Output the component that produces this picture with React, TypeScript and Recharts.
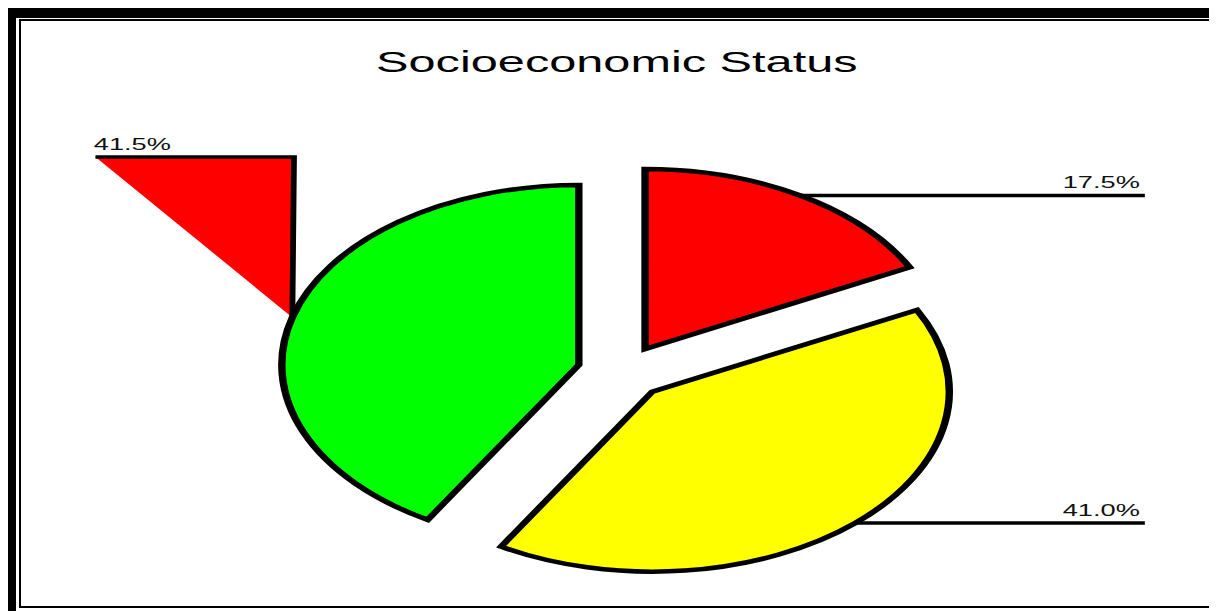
import { Customized, Pie, PieChart, Sector } from "recharts";

const CATEGORIES = ["Low", "Middle", "High"];
const SHARES = [17.5, 41.0, 41.5];
const SLICE_COLORS = ["#ff0000", "#ffff00", "#00ff00"];

const TITLE = "Socioeconomic Status";

// the original picture is stretched sideways, so the chart is drawn narrow and scaled
const STRETCH = 1.65;
const CHART_W = 740;
const CHART_H = 603;
const EXPLODE = 27;
const RADIUS = 180;
const LEFT_END = 53;
const RIGHT_END = 689;
const LEFT_TOP = 149;
const FONT = '"Liberation Sans", Arial, sans-serif';

const data = CATEGORIES.map((name, i) => ({
  name,
  value: SHARES[i],
  fill: SLICE_COLORS[i],
}));

const RAD = Math.PI / 180;

function shift(midAngle: number) {
  return {
    dx: EXPLODE * Math.cos(-midAngle * RAD),
    dy: EXPLODE * Math.sin(-midAngle * RAD),
  };
}

function ExplodedSector(props: any) {
  const { dx, dy } = shift(props.midAngle);
  return (
    <Sector
      {...props}
      cx={props.cx + dx}
      cy={props.cy + dy}
      stroke="#000"
      strokeWidth={4.5}
    />
  );
}

function renderLabel(props: any) {
  const { cx, cy, midAngle, outerRadius, value } = props;
  const { dx, dy } = shift(midAngle);
  const cos = Math.cos(-midAngle * RAD);
  const sin = Math.sin(-midAngle * RAD);
  const px = cx + dx + outerRadius * cos;
  const py = cy + dy + outerRadius * sin;
  const text = `${Number(value).toFixed(1)}%`;

  if (cos >= 0) {
    return (
      <g>
        <polyline
          points={`${px},${py} ${RIGHT_END},${py}`}
          fill="none"
          stroke="#000"
          strokeWidth={3.5}
        />
        <text
          x={RIGHT_END - 3}
          y={py - 7}
          textAnchor="end"
          fill="#111"
          fontSize={16.5}
          fontFamily={FONT}
        >
          {text}
        </text>
      </g>
    );
  }

  return (
    <g>
      <polyline
        points={`${px},${py} ${px + 1},${LEFT_TOP} ${LEFT_END},${LEFT_TOP}`}
        fill="#ff0000"
        stroke="#000"
        strokeWidth={3.5}
      />
      <text
        x={LEFT_END - 1}
        y={LEFT_TOP - 7}
        textAnchor="start"
        fill="#111"
        fontSize={16.5}
        fontFamily={FONT}
      >
        {text}
      </text>
    </g>
  );
}

export default function App() {
  return (
    <div
      style={{
        position: "relative",
        width: 1209,
        height: 603,
        overflow: "hidden",
        background: "#fff",
      }}
    >
      <div
        style={{
          position: "absolute",
          left: 0,
          top: 0,
          width: 8,
          height: 700,
          background: "#000",
        }}
      />
      <div
        style={{
          position: "absolute",
          left: 0,
          top: 0,
          width: 1400,
          height: 10,
          background: "#000",
        }}
      />
      <div
        style={{
          position: "absolute",
          left: 11,
          top: 11,
          width: 1400,
          height: 589,
          boxSizing: "border-box",
          border: "2px solid #000",
        }}
      />
      <div
        style={{
          position: "absolute",
          left: 0,
          top: 0,
          width: CHART_W,
          height: CHART_H,
          transform: `scaleX(${STRETCH})`,
          transformOrigin: "0 0",
        }}
      >
        <PieChart width={CHART_W} height={CHART_H}>
          <Customized
            component={() => (
              <text
                x={369}
                y={64}
                textAnchor="middle"
                fill="#000"
                fontSize={29.5}
                fontFamily={FONT}
              >
                {TITLE}
              </text>
            )}
          />
          <Pie
            data={data}
            dataKey="value"
            nameKey="name"
            cx={367}
            cy={359}
            outerRadius={RADIUS}
            startAngle={90}
            endAngle={-270}
            stroke="#000"
            strokeWidth={4.5}
            shape={ExplodedSector}
            label={renderLabel}
            labelLine={false}
            isAnimationActive={false}
          />
        </PieChart>
      </div>
    </div>
  );
}
